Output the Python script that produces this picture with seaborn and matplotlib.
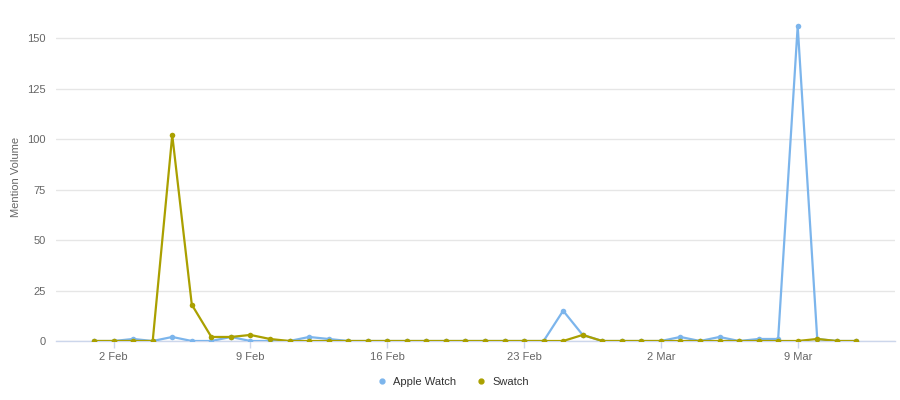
import pandas as pd
import matplotlib
matplotlib.use("Agg")
import matplotlib.pyplot as plt
import matplotlib.dates as mdates
import seaborn as sns

# daily mention counts, 1 Feb - 12 Mar
dates = pd.date_range("2015-02-01", "2015-03-12", freq="D")
apple_watch = [0, 0, 1, 0, 2, 0, 0, 2, 0, 0, 0, 2, 1, 0, 0,
               0, 0, 0, 0, 0, 0, 0, 0, 0, 15, 3, 0, 0,
               0, 0, 2, 0, 2, 0, 1, 1, 156, 1, 0, 0]
swatch = [0, 0, 0, 0, 102, 18, 2, 2, 3, 1, 0, 0, 0, 0, 0,
          0, 0, 0, 0, 0, 0, 0, 0, 0, 0, 3, 0, 0,
          0, 0, 0, 0, 0, 0, 0, 0, 0, 1, 0, 0]
series_names = ["Apple Watch", "Swatch"]
colors = ["#7cb5ec", "#aaa000"]
y_ticks = [0, 25, 50, 75, 100, 125, 150]
x_tick_dates = ["2015-02-02", "2015-02-09", "2015-02-16", "2015-02-23", "2015-03-02", "2015-03-09"]

df = pd.DataFrame({"date": dates, "Apple Watch": apple_watch, "Swatch": swatch})
long_df = df.melt(id_vars="date", var_name="series", value_name="mentions")

sns.set_theme(style="white")
plt.rcParams["font.family"] = ["Liberation Sans", "DejaVu Sans"]

fig = plt.figure(figsize=(9, 4), dpi=100)
ax = fig.add_axes([0.062, 0.1475, 0.932, 0.82])

sns.lineplot(data=long_df, x="date", y="mentions", hue="series",
             hue_order=series_names, palette=colors, marker="o",
             markersize=4, markeredgewidth=0, linewidth=1.6, ax=ax,
             legend=False, zorder=3)

ax.set_ylim(0, 162.5)
ax.set_xlim(pd.Timestamp("2015-01-30 01:00"), pd.Timestamp("2015-03-13 23:00"))
ax.set_yticks(y_ticks)
ax.yaxis.grid(True, color="#e6e6e6", linewidth=1)
ax.set_axisbelow(True)

ax.set_xticks(pd.to_datetime(x_tick_dates))
ax.xaxis.set_major_formatter(mdates.DateFormatter("%-d %b"))

for side in ["top", "right", "left"]:
    ax.spines[side].set_visible(False)
ax.spines["bottom"].set_color("#ccd6eb")
ax.spines["bottom"].set_linewidth(1)

ax.tick_params(axis="x", length=5, width=1, color="#ccd6eb", labelsize=8,
               labelcolor="#666666", pad=3, direction="out", bottom=True)
ax.tick_params(axis="y", length=0, labelsize=8, labelcolor="#666666", pad=7)

ax.set_xlabel("")
ax.set_ylabel("Mention Volume", fontsize=8, color="#666666", labelpad=5)

handles = [plt.Line2D([], [], marker="o", linestyle="", color=c, markersize=3.5)
           for c in colors]
fig.legend(handles, series_names, loc="center", bbox_to_anchor=(0.5, 0.045),
           ncol=2, frameon=False, fontsize=8, handletextpad=0.05,
           columnspacing=1.2, labelcolor="#333333")

fig.savefig("out.png", dpi=100)
